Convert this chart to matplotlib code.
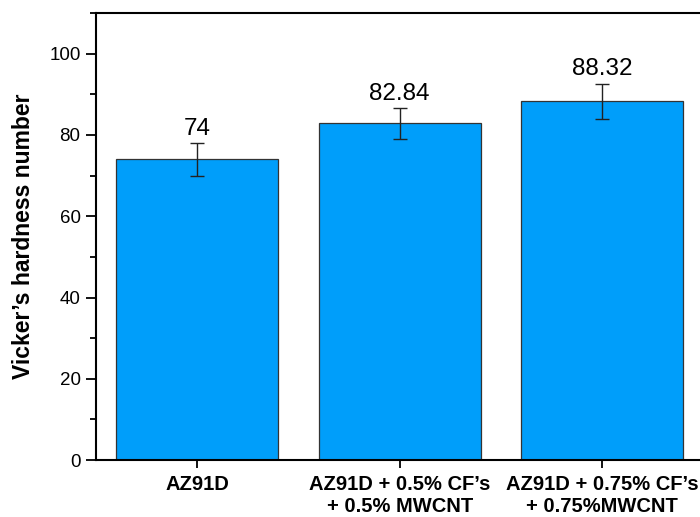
import matplotlib.pyplot as plt
from matplotlib.ticker import MultipleLocator

plt.rcParams['font.family'] = ['Liberation Sans', 'DejaVu Sans']

# hardness results for each composite
samples = ['AZ91D', 'AZ91D + 0.5% CF\u2019s\n+ 0.5% MWCNT', 'AZ91D + 0.75% CF\u2019s\n+ 0.75%MWCNT']
hardness = [74, 82.84, 88.32]
errors = [4.0, 3.8, 4.3]
value_labels = ['74', '82.84', '88.32']

fig = plt.figure(figsize=(7, 5.17), dpi=100)
ax = fig.add_axes([0.137, 0.110, 0.868, 0.865])

x = range(len(samples))
ax.bar(x, hardness, width=0.8, color='#009EFA', edgecolor='#333333', linewidth=0.9,
       yerr=errors, capsize=5, error_kw=dict(ecolor='#222222', elinewidth=1.0, capthick=1.0))

for i, (h, e, lab) in enumerate(zip(hardness, errors, value_labels)):
    ax.text(i, h + e + 0.8, lab, ha='center', va='bottom', fontsize=17.5)

ax.set_xlim(-0.5, 2.5)
ax.set_ylim(0, 110)
ax.set_xticks(list(x))
ax.set_xticklabels(samples, fontsize=14.5, fontweight='bold', linespacing=1.2)
ax.yaxis.set_major_locator(MultipleLocator(20))
ax.yaxis.set_minor_locator(MultipleLocator(10))
ax.tick_params(axis='y', which='major', direction='out', length=7, width=1.3, labelsize=13.5, pad=4)
ax.tick_params(axis='y', which='minor', direction='out', length=4, width=1.3)
ax.tick_params(axis='x', direction='out', length=6, width=1.3, pad=5)
ax.set_ylabel('Vicker\u2019s hardness number', fontsize=16.5, fontweight='bold', labelpad=10)

for sp in ax.spines.values():
    sp.set_linewidth(1.5)

fig.savefig('out.png', dpi=100)
